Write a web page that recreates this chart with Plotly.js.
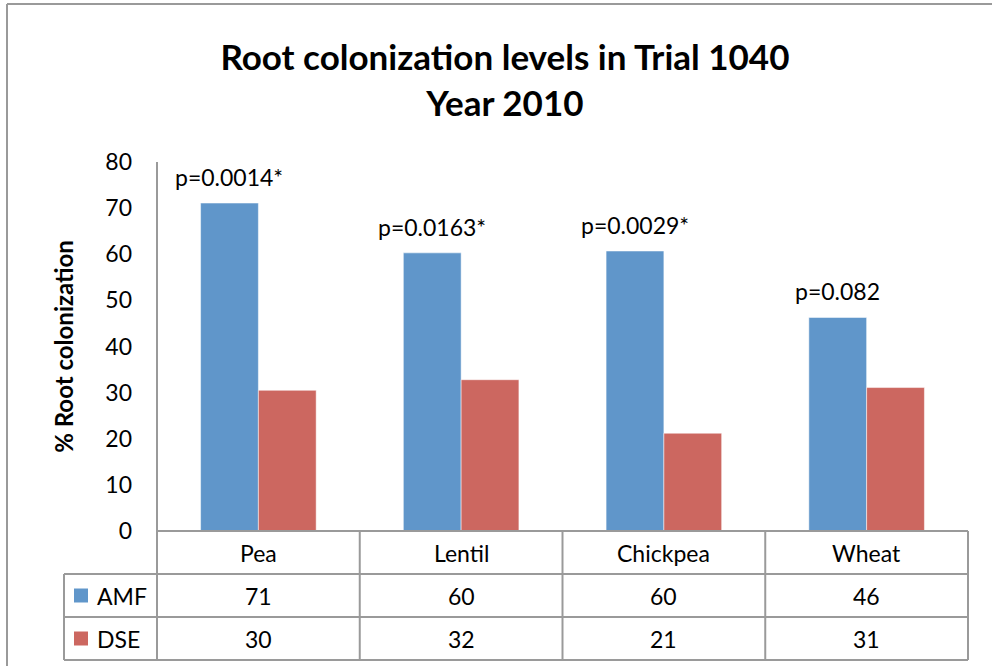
<!DOCTYPE html>
<html>
<head>
<meta charset="utf-8">
<script src="https://cdn.plot.ly/plotly-3.0.1.min.js"></script>
<style>html,body{margin:0;padding:0;background:#fff;}#chart{width:992px;height:666px;}</style>
</head>
<body>
<div id="chart"></div>
<script>
const categories = ["Pea", "Lentil", "Chickpea", "Wheat"];
const amfValues = [71.1, 60.3, 60.7, 46.3];
const dseValues = [30.5, 32.8, 21.2, 31.1];
const amfTable = [71, 60, 60, 46];
const dseTable = [30, 32, 21, 31];
const pLabels = ["p=0.0014*", "p=0.0163*", "p=0.0029*", "p=0.082"];
const seriesNames = ["AMF", "DSE"];
const colors = ["#6096CA", "#CC6760"];

const W = 992, H = 666;
const L = 157, R = 968, T = 162, B = 531;
const rowH = 43;
const legendLeft = 64;
const gridColor = "#9a9a9a";
const font = "Lato, 'Open Sans', sans-serif";

// pixel -> paper (paper spans the plot area)
const px = x => (x - L) / (R - L);
const py = y => (B - y) / (B - T);

const traces = [
  {type: "bar", name: seriesNames[0], x: categories, y: amfValues, marker: {color: colors[0], line: {color: "#ffffff", width: 0.5}}},
  {type: "bar", name: seriesNames[1], x: categories, y: dseValues, marker: {color: colors[1], line: {color: "#ffffff", width: 0.5}}}
];

const shapes = [];
const annotations = [];
const line = (x0, y0, x1, y1, w) => shapes.push({type: "line", xref: "paper", yref: "paper",
  x0: px(x0), y0: py(y0), x1: px(x1), y1: py(y1), line: {color: gridColor, width: w || 2}});

// outer chart border
line(7, 4, 992, 4, 2);
line(7, 4, 7, 666, 2);

// table grid
const colW = (R - L) / categories.length;
line(L, B, R, B);
line(legendLeft, B + rowH, R, B + rowH);
line(legendLeft, B + 2 * rowH, R, B + 2 * rowH);
line(legendLeft, B + 3 * rowH, R, B + 3 * rowH);
line(legendLeft, B + rowH, legendLeft, B + 3 * rowH);
for (let i = 0; i <= categories.length; i++) {
  line(L + i * colW, i === 0 ? T : B, L + i * colW, B + 3 * rowH);
}

// table text
const tableFont = {family: font, size: 23, color: "#000"};
categories.forEach((c, i) => {
  const cx = px(L + (i + 0.5) * colW);
  annotations.push({xref: "paper", yref: "paper", x: cx, y: py(B + rowH / 2), text: c, showarrow: false, font: tableFont, xanchor: "center", yanchor: "middle"});
  annotations.push({xref: "paper", yref: "paper", x: cx, y: py(B + 1.5 * rowH), text: String(amfTable[i]), showarrow: false, font: tableFont, xanchor: "center", yanchor: "middle"});
  annotations.push({xref: "paper", yref: "paper", x: cx, y: py(B + 2.5 * rowH), text: String(dseTable[i]), showarrow: false, font: tableFont, xanchor: "center", yanchor: "middle"});
});
// legend keys
seriesNames.forEach((n, k) => {
  const cy = B + (1.5 + k) * rowH;
  shapes.push({type: "rect", xref: "paper", yref: "paper", x0: px(74), x1: px(88), y0: py(cy - 7), y1: py(cy + 7), line: {width: 0}, fillcolor: colors[k]});
  annotations.push({xref: "paper", yref: "paper", x: px(95), y: py(cy), text: n, showarrow: false, font: tableFont, xanchor: "left", yanchor: "middle"});
});

// p-value labels above AMF bars
pLabels.forEach((t, i) => {
  annotations.push({xref: "x", yref: "y", x: categories[i], y: amfValues[i], text: t, showarrow: false,
    xshift: -29, yshift: 10, xanchor: "center", yanchor: "bottom", font: {family: font, size: 23, color: "#000"}});
});

const layout = {
  width: W, height: H,
  margin: {l: L, r: W - R, t: T, b: H - B, pad: 0},
  paper_bgcolor: "#fff", plot_bgcolor: "#fff",
  showlegend: false,
  barmode: "group",
  bargap: 0.43,
  bargroupgap: 0,
  title: {text: "<b>Root colonization levels in Trial 1040<br>Year 2010</b>", x: 0.509, xanchor: "center", y: 1 - 70 / H, yanchor: "middle",
    font: {family: font, size: 35, color: "#000"}},
  xaxis: {type: "category", showticklabels: false, showline: false, showgrid: false, zeroline: false, ticks: ""},
  yaxis: {range: [0, 80], dtick: 10, showgrid: false, zeroline: false, showline: false, ticks: "",
    tickfont: {family: font, size: 23, color: "#000"}, ticklabelstandoff: 24,
    title: {text: "<b>% Root colonization</b>", font: {family: font, size: 24, color: "#000"}, standoff: 24}},
  shapes: shapes,
  annotations: annotations
};

Plotly.newPlot("chart", traces, layout, {displayModeBar: false, staticPlot: true});
</script>
</body>
</html>
